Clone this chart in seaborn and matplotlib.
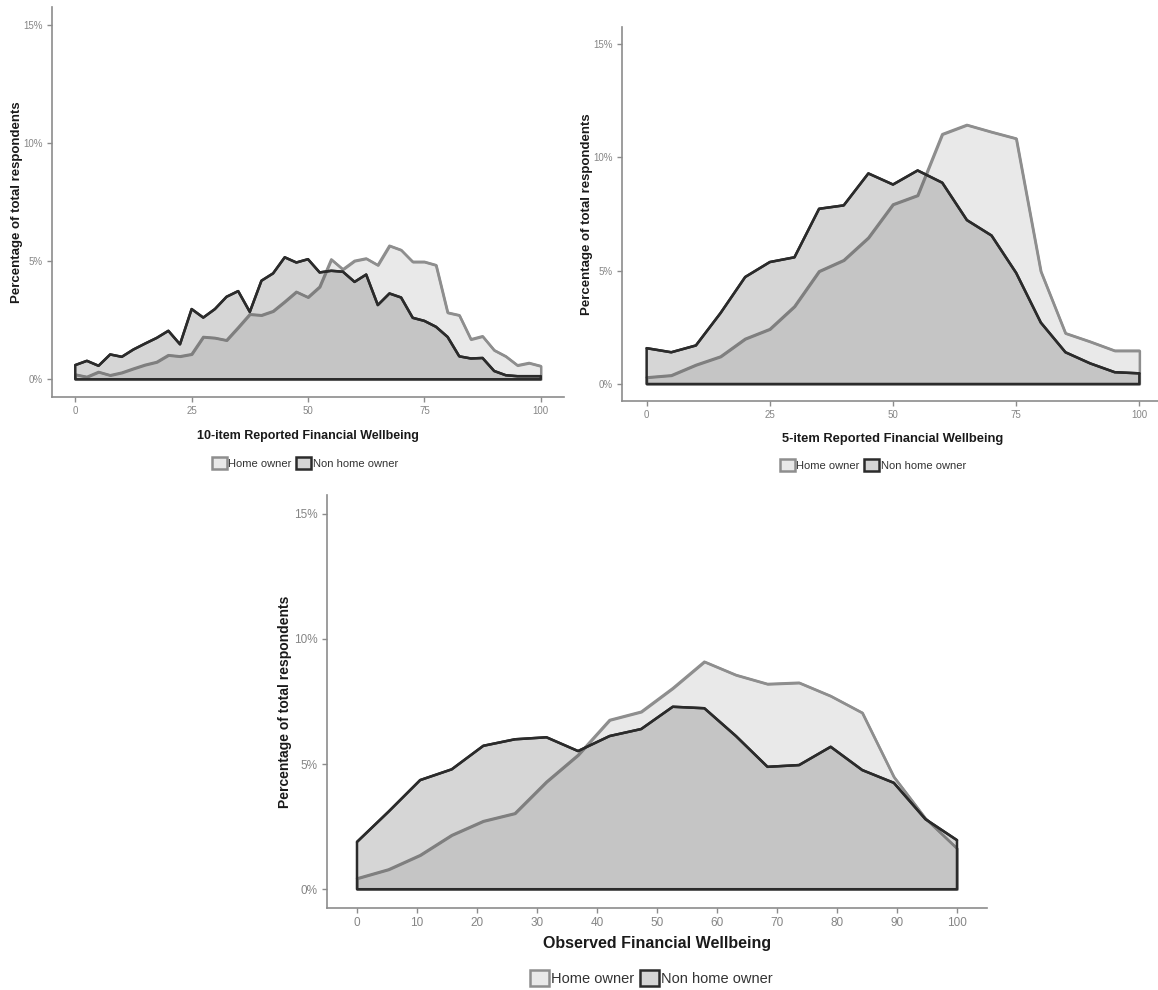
import numpy as np
import pandas as pd
import matplotlib
matplotlib.use("Agg")
import matplotlib.pyplot as plt
from matplotlib.patches import Patch
from matplotlib.ticker import FuncFormatter
import seaborn as sns

# ---------------- data (percent of total respondents) ----------------
groups = ["Home owner", "Non home owner"]

x10 = [i * 2.5 for i in range(41)]
home10 = [0.20, 0.10, 0.31, 0.17, 0.28, 0.45, 0.61, 0.73, 1.02, 0.97,
          1.06, 1.79, 1.75, 1.65, 2.19, 2.75, 2.71, 2.88, 3.28, 3.70,
          3.47, 3.91, 5.07, 4.65, 5.01, 5.11, 4.83, 5.65, 5.47, 4.97,
          4.97, 4.83, 2.82, 2.71, 1.69, 1.82, 1.23, 0.97, 0.59, 0.69, 0.56]
non10 = [0.60, 0.78, 0.57, 1.05, 0.95, 1.26, 1.51, 1.75, 2.05, 1.48,
         2.97, 2.61, 2.97, 3.49, 3.73, 2.85, 4.17, 4.48, 5.16, 4.94,
         5.08, 4.52, 4.59, 4.55, 4.12, 4.43, 3.14, 3.63, 3.46, 2.60,
         2.47, 2.22, 1.79, 0.97, 0.88, 0.90, 0.35, 0.17, 0.13, 0.13, 0.13]

x5 = [i * 5 for i in range(21)]
home5 = [0.29, 0.38, 0.84, 1.21, 1.99, 2.42, 3.42, 4.97, 5.46, 6.45,
         7.92, 8.32, 11.02, 11.43, 11.12, 10.83, 4.97, 2.24, 1.87, 1.47, 1.47]
non5 = [1.58, 1.40, 1.70, 3.13, 4.72, 5.38, 5.59, 7.73, 7.88, 9.29,
        8.80, 9.42, 8.88, 7.23, 6.55, 4.90, 2.71, 1.40, 0.91, 0.52, 0.47]

xobs = [i * 100 / 19 for i in range(20)]
homeobs = [0.43, 0.79, 1.36, 2.16, 2.72, 3.03, 4.29, 5.36, 6.76, 7.09,
           8.03, 9.09, 8.56, 8.20, 8.25, 7.72, 7.05, 4.49, 2.83, 1.63]
nonobs = [1.89, 3.10, 4.36, 4.79, 5.73, 5.99, 6.07, 5.52, 6.12, 6.40,
          7.29, 7.23, 6.12, 4.89, 4.96, 5.69, 4.76, 4.25, 2.80, 1.96]

xlabels = ["10-item Reported Financial Wellbeing",
           "5-item Reported Financial Wellbeing",
           "Observed Financial Wellbeing"]
ylabel = "Percentage of total respondents"
yticks = [0, 5, 10, 15]

# ---------------- style ----------------
sns.set_style("ticks")
plt.rcParams["font.family"] = ["Liberation Sans", "DejaVu Sans"]

HOME_FILL = "#e9e9e9"
HOME_EDGE = "#8e8e8e"
NON_FILL = "#4f4f4f"
NON_ALPHA = 0.23
NON_EDGE = "#2b2b2b"
AXIS_COL = "#8c8c8c"
TICK_COL = "#858585"

W, H = 1158, 990
fig = plt.figure(figsize=(W / 100, H / 100), dpi=100)


def px_axes(left, top, right, bottom):
    return fig.add_axes([left / W, 1 - bottom / H, (right - left) / W, (bottom - top) / H])


def draw_panel(ax, x, home, non, xlabel, xticks, tick_fs, xl_fs, yl_fs, xpad, ypad):
    df = pd.DataFrame({"x": list(x) * 2,
                       "y": list(home) + list(non),
                       "group": [groups[0]] * len(x) + [groups[1]] * len(x)})
    h = df[df.group == groups[0]]
    n = df[df.group == groups[1]]
    ax.fill_between(h.x, 0, h.y, facecolor=HOME_FILL, edgecolor=HOME_EDGE,
                    linewidth=1.8, zorder=2)
    sns.lineplot(data=h, x="x", y="y", color=HOME_EDGE, linewidth=1.8,
                 ax=ax, zorder=3, legend=False)
    ax.fill_between(n.x, 0, n.y, facecolor=NON_FILL, alpha=NON_ALPHA,
                    linewidth=0, zorder=4)
    ax.fill_between(n.x, 0, n.y, facecolor="none", edgecolor=NON_EDGE,
                    linewidth=1.8, zorder=5)
    sns.lineplot(data=n, x="x", y="y", color=NON_EDGE, linewidth=1.8,
                 ax=ax, zorder=6, legend=False)

    ax.set_xlim(-5, 105)
    ax.set_ylim(-0.75, 15.75)
    ax.set_xticks(xticks)
    ax.set_yticks(yticks)
    ax.yaxis.set_major_formatter(FuncFormatter(lambda v, p: f"{v:.0f}%"))
    ax.xaxis.set_major_formatter(FuncFormatter(lambda v, p: f"{v:.0f}"))
    for s in ["top", "right"]:
        ax.spines[s].set_visible(False)
    for s in ["left", "bottom"]:
        ax.spines[s].set_color(AXIS_COL)
        ax.spines[s].set_linewidth(1.2)
    ax.tick_params(axis="both", colors=AXIS_COL, labelcolor=TICK_COL,
                   labelsize=tick_fs, length=3.5, width=1.0, pad=3)
    ax.set_xlabel(xlabel, fontsize=xl_fs, fontweight="bold", color="#1a1a1a", labelpad=xpad)
    ax.set_ylabel(ylabel, fontsize=yl_fs, fontweight="bold", color="#1a1a1a", labelpad=ypad)


def legend_at(cx, cy, fs, hl):
    handles = [Patch(facecolor=HOME_FILL, edgecolor=HOME_EDGE, linewidth=1.8),
               Patch(facecolor="#d4d4d4", edgecolor=NON_EDGE, linewidth=1.8)]
    fig.legend(handles, groups, loc="center", bbox_to_anchor=(cx / W, 1 - cy / H),
               ncol=2, frameon=False, fontsize=fs, handlelength=hl, handleheight=hl,
               handletextpad=0.15, columnspacing=0.4, labelcolor="#333333")


ax1 = px_axes(52, 7, 564, 397)
draw_panel(ax1, x10, home10, non10, xlabels[0], [0, 25, 50, 75, 100], 7, 9, 9.5, 10, 0)
legend_at(305, 463, 8, 1.35)

ax2 = px_axes(622, 27, 1164, 401)
draw_panel(ax2, x5, home5, non5, xlabels[1], [0, 25, 50, 75, 100], 7, 9.3, 9.5, 9, 0)
legend_at(873, 465, 8, 1.35)

ax3 = px_axes(327, 495, 987, 908)
draw_panel(ax3, xobs, homeobs, nonobs, xlabels[2], list(range(0, 101, 10)), 8.5, 11.5, 10, 5, 1.5)
legend_at(651, 978, 10.5, 1.3)

fig.savefig("out.png", dpi=100, facecolor="white")
